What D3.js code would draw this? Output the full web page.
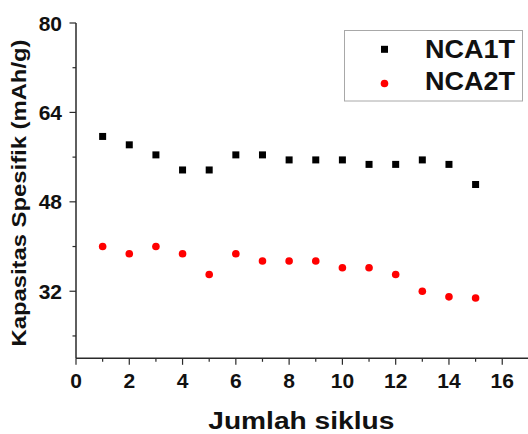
<!DOCTYPE html>
<html>
<head>
<meta charset="utf-8">
<script src="https://cdn.jsdelivr.net/npm/d3@7"></script>
<style>
html,body{margin:0;padding:0;background:#fff;}
svg{display:block;font-family:"Liberation Sans",Arial,sans-serif;}
</style>
</head>
<body>
<svg id="chart" width="528" height="434"></svg>
<script>
const cycles = [1,2,3,4,5,6,7,8,9,10,11,12,13,14,15];
const nca1t = [59.7,58.2,56.4,53.7,53.7,56.4,56.4,55.5,55.5,55.5,54.7,54.7,55.5,54.7,51.1];
const nca2t = [40.0,38.7,40.0,38.7,35.0,38.7,37.4,37.4,37.4,36.2,36.2,35.0,32.0,31.0,30.8];
const xTicks = [0,2,4,6,8,10,12,14,16];
const yTicks = [32,48,64,80];
const seriesNames = ["NCA1T","NCA2T"];

const svg = d3.select("#chart");
const x = d3.scaleLinear().domain([0,17]).range([76, 76 + 17*26.64]);
const y = d3.scaleLinear().domain([20,80]).range([358.3, 23]);
const axisColor = "#2a2a2a";

// X axis
const xAxis = svg.append("g").attr("transform", "translate(0,358.3)");
xAxis.append("line").attr("x1", x(0)).attr("x2", 528).attr("y1",0).attr("y2",0)
  .attr("stroke", axisColor).attr("stroke-width",1.5);
xAxis.selectAll(".minor").data(d3.range(1,17,2)).join("line")
  .attr("x1", d=>x(d)).attr("x2", d=>x(d)).attr("y1",0).attr("y2",3.5)
  .attr("stroke", axisColor).attr("stroke-width",1.2);
xAxis.selectAll(".major").data(xTicks).join("line")
  .attr("x1", d=>x(d)).attr("x2", d=>x(d)).attr("y1",0).attr("y2",6.5)
  .attr("stroke", axisColor).attr("stroke-width",1.2);
xAxis.selectAll("text").data(xTicks).join("text")
  .attr("x", d=>x(d)).attr("y", 30)
  .attr("text-anchor","middle").attr("font-size",21).attr("font-weight","bold").attr("fill","#111")
  .text(d=>d);

// Y axis
const yAxis = svg.append("g").attr("transform", "translate(76,0)");
yAxis.append("line").attr("x1",0).attr("x2",0).attr("y1", y(80)).attr("y2", y(20))
  .attr("stroke", axisColor).attr("stroke-width",1.5);
yAxis.selectAll(".minor").data([24,40,56,72]).join("line")
  .attr("x1",0).attr("x2",-3.5).attr("y1", d=>y(d)).attr("y2", d=>y(d))
  .attr("stroke", axisColor).attr("stroke-width",1.2);
yAxis.selectAll(".major").data(yTicks).join("line")
  .attr("x1",0).attr("x2",-6.5).attr("y1", d=>y(d)).attr("y2", d=>y(d))
  .attr("stroke", axisColor).attr("stroke-width",1.2);
yAxis.selectAll("text").data(yTicks).join("text")
  .attr("x",-14).attr("y", d=>y(d)+7.5)
  .attr("text-anchor","end").attr("font-size",21).attr("font-weight","bold").attr("fill","#111")
  .text(d=>d);

// Axis titles
svg.append("text").attr("x",208.3).attr("y",429.3)
  .attr("font-size",23).attr("font-weight","bold").attr("fill","#111")
  .attr("textLength",186).attr("lengthAdjust","spacingAndGlyphs")
  .text("Jumlah siklus");
svg.append("text").attr("transform","translate(25.5,346.5) rotate(-90)")
  .attr("font-size",19.5).attr("font-weight","bold").attr("fill","#111")
  .attr("textLength",307).attr("lengthAdjust","spacingAndGlyphs")
  .text("Kapasitas Spesifik (mAh/g)");

// Data marks
const sq = 7;
svg.append("g").selectAll("rect").data(cycles).join("rect")
  .attr("x", (d)=>x(d)-sq/2).attr("y", (d,i)=>y(nca1t[i])-sq/2)
  .attr("width", sq).attr("height", sq).attr("fill","#000");
svg.append("g").selectAll("circle").data(cycles).join("circle")
  .attr("cx", d=>x(d)).attr("cy", (d,i)=>y(nca2t[i])).attr("r",3.8).attr("fill","#ff0000");

// Legend
const lg = svg.append("g");
lg.append("rect").attr("x",344.5).attr("y",30.5).attr("width",178).attr("height",70.5)
  .attr("fill","#fff").attr("stroke","#a8a8a8").attr("stroke-width",1);
lg.append("rect").attr("x",384.5-sq/2).attr("y",49.3-sq/2).attr("width",sq).attr("height",sq).attr("fill","#000");
lg.append("circle").attr("cx",384.5).attr("cy",83.5).attr("r",3.8).attr("fill","#ff0000");
lg.selectAll("text").data(seriesNames).join("text")
  .attr("x",425).attr("y",(d,i)=> i===0 ? 58.3 : 89.5)
  .attr("font-size",25.5).attr("font-weight","bold").attr("fill","#111")
  .attr("textLength",90).attr("lengthAdjust","spacingAndGlyphs")
  .text(d=>d);
</script>
</body>
</html>
